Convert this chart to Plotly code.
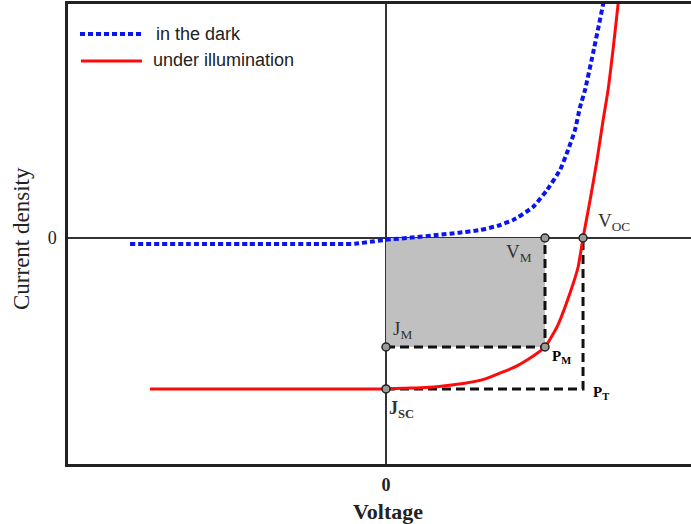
import plotly.graph_objects as go

# Characteristic points of the J-V curve (normalised units)
V_OC = 1.0      # open-circuit voltage
J_SC = -1.0     # short-circuit current density
V_M = 0.807     # voltage at maximum power point
J_M = -0.722    # current density at maximum power point

# J-V curve measured in the dark
dark_v = [-1.299, -1.0, -0.7, -0.4, -0.157, -0.081, 0.0, 0.13, 0.259, 0.37,
          0.477, 0.565, 0.645, 0.746, 0.817, 0.883, 0.924, 0.959, 0.985,
          1.010, 1.051, 1.102, 1.115]
dark_j = [-0.040, -0.040, -0.040, -0.040, -0.038, -0.025, -0.012, 0.003,
          0.020, 0.035, 0.053, 0.080, 0.119, 0.205, 0.318, 0.450, 0.583,
          0.715, 0.868, 0.980, 1.225, 1.550, 1.650]

# J-V curve under illumination
illum_v = [-1.198, -0.9, -0.6, -0.3, 0.0, 0.1, 0.2, 0.3, 0.4, 0.5, 0.594,
           0.66, 0.716, 0.76, 0.807, 0.868, 0.934, 0.975, 1.0, 1.036, 1.071,
           1.102, 1.127, 1.152, 1.178, 1.186]
illum_j = [-1.0, -1.0, -1.0, -1.0, -1.0, -0.995, -0.99, -0.978, -0.962,
           -0.935, -0.887, -0.85, -0.808, -0.77, -0.722, -0.589, -0.364,
           -0.192, 0.0, 0.252, 0.517, 0.781, 0.980, 1.245, 1.550, 1.650]

x_range = [-1.614, 1.548]
y_range = [-1.497, 1.550]

SERIF = "Liberation Serif, Times New Roman, serif"
SANS = "Liberation Sans, Arial, sans-serif"
DASH = "9px,5px"

fig = go.Figure()

# Maximum-power rectangle
fig.add_trace(go.Scatter(
    x=[0, V_M, V_M, 0, 0], y=[0, 0, J_M, J_M, 0],
    mode="lines", fill="toself", fillcolor="#c0c0c0",
    line=dict(width=0), hoverinfo="skip", showlegend=False))

# Dashed construction lines
fig.add_trace(go.Scatter(
    x=[0, V_M, V_M], y=[J_M, J_M, 0], mode="lines",
    line=dict(color="#111111", width=3, dash=DASH), showlegend=False))
fig.add_trace(go.Scatter(
    x=[0, V_OC, V_OC], y=[J_SC, J_SC, 0], mode="lines",
    line=dict(color="#111111", width=3, dash=DASH), showlegend=False))

fig.add_trace(go.Scatter(
    x=dark_v, y=dark_j, mode="lines", name="in the dark",
    line=dict(color="#0a14f0", width=4, dash="5px,3px", shape="spline", smoothing=0.5),
    showlegend=False))
fig.add_trace(go.Scatter(
    x=illum_v, y=illum_j, mode="lines", name="under illumination",
    line=dict(color="#ff0a0a", width=3, shape="spline", smoothing=0.5),
    showlegend=False))

# Characteristic point markers
fig.add_trace(go.Scatter(
    x=[0, 0, V_M, V_OC, V_M], y=[J_M, J_SC, 0, 0, J_M], mode="markers",
    marker=dict(size=8, color="#9a9a9a", line=dict(color="#222222", width=1.5)),
    showlegend=False))

lab_font = dict(family=SERIF, size=19, color="#333333")
p_font = dict(family=SERIF, size=15, color="#000000")
annotations = [
    dict(x=V_OC, y=0, text="V<sub>OC</sub>", xanchor="left", yanchor="middle",
         xshift=13, yshift=16, font=lab_font),
    dict(x=V_M, y=0, text="V<sub>M</sub>", xanchor="right", yanchor="middle",
         xshift=-11, yshift=-15, font=lab_font),
    dict(x=0, y=J_M, text="J<sub>M</sub>", xanchor="left", yanchor="middle",
         xshift=5, yshift=17, font=lab_font),
    dict(x=V_M, y=J_M, text="<b>P<sub>M</sub></b>", xanchor="left", yanchor="middle",
         xshift=5, yshift=-10, font=p_font),
    dict(x=V_OC, y=J_SC, text="<b>P<sub>T</sub></b>", xanchor="left", yanchor="middle",
         xshift=8, yshift=-4, font=p_font),
    dict(x=0, y=J_SC, text="<b>J<sub>SC</sub></b>", xanchor="left", yanchor="middle",
         xshift=1, yshift=-21, font=dict(family=SERIF, size=18, color="#333333")),
    # axis titles
    dict(xref="paper", yref="paper", x=(388 - 68) / 623, y=(464 - 511) / 460,
         text="<b>Voltage</b>", showarrow=False, xanchor="center", yanchor="middle",
         font=dict(family=SERIF, size=22, color="#222222")),
    dict(xref="paper", yref="paper", x=(22 - 68) / 623, y=(464 - 238) / 460,
         text="Current density", showarrow=False, textangle=-90,
         xanchor="center", yanchor="middle",
         font=dict(family=SERIF, size=23, color="#222222")),
    # legend text
    dict(xref="paper", yref="paper", x=(154 - 68) / 623, y=(464 - 34) / 460,
         text="in the dark", showarrow=False, xanchor="left", yanchor="middle",
         font=dict(family=SANS, size=18, color="#222222")),
    dict(xref="paper", yref="paper", x=(151 - 68) / 623, y=(464 - 60) / 460,
         text="under illumination", showarrow=False, xanchor="left", yanchor="middle",
         font=dict(family=SANS, size=18, color="#222222")),
]
for a in annotations:
    a.setdefault("showarrow", False)

shapes = [
    dict(type="line", xref="paper", yref="paper",
         x0=(80 - 68) / 623, x1=(141 - 68) / 623,
         y0=(464 - 34) / 460, y1=(464 - 34) / 460,
         line=dict(color="#0a14f0", width=4, dash="5px,3px")),
    dict(type="line", xref="paper", yref="paper",
         x0=(81 - 68) / 623, x1=(142 - 68) / 623,
         y0=(464 - 61) / 460, y1=(464 - 61) / 460,
         line=dict(color="#ff0a0a", width=3)),
]

fig.update_layout(
    width=691, height=524,
    margin=dict(l=68, r=0, t=4, b=60),
    paper_bgcolor="white", plot_bgcolor="white",
    annotations=annotations, shapes=shapes,
    showlegend=False,
    xaxis=dict(range=x_range, showgrid=False, zeroline=True,
               zerolinecolor="#333333", zerolinewidth=2,
               showline=True, mirror=True, linecolor="#222222", linewidth=2.5,
               tickvals=[0], ticktext=["<b>0</b>"], ticks="", ticklabelstandoff=3,
               tickfont=dict(family=SERIF, size=18, color="#222222")),
    yaxis=dict(range=y_range, showgrid=False, zeroline=True,
               zerolinecolor="#333333", zerolinewidth=2,
               showline=True, mirror=False, linecolor="#222222", linewidth=2.5,
               tickvals=[0], ticktext=["0"], ticks="", ticklabelstandoff=5,
               tickfont=dict(family=SERIF, size=18, color="#222222")),
)

fig.write_html("out.html")
